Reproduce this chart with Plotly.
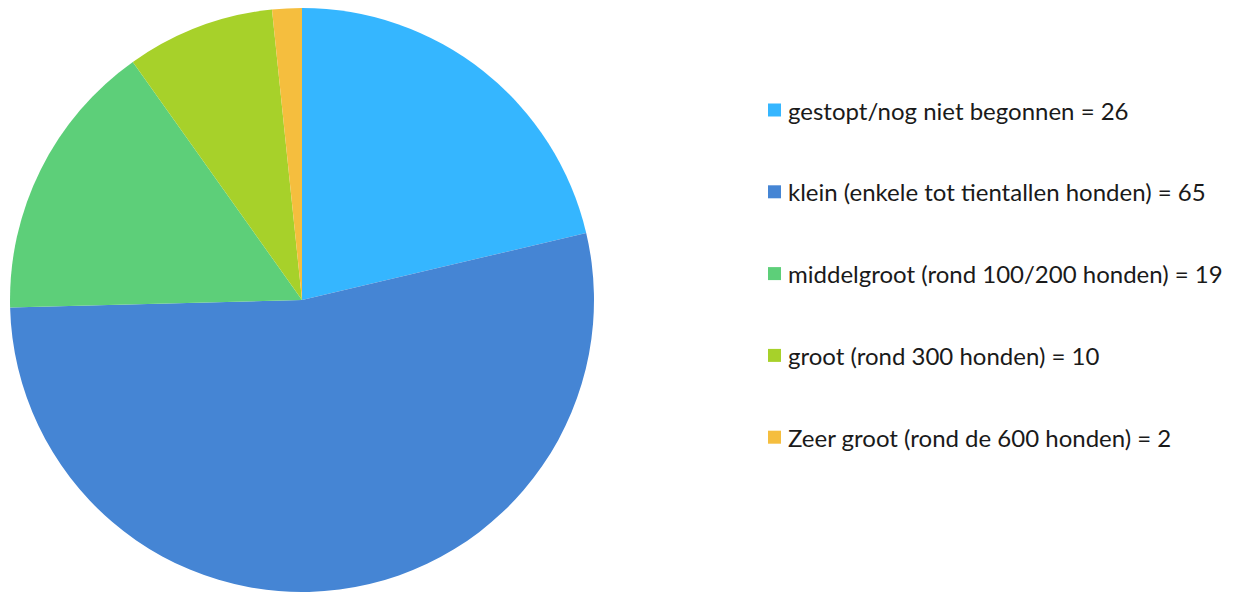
import plotly.graph_objects as go

# data
labels = [
    "gestopt/nog niet begonnen",
    "klein (enkele tot tientallen honden)",
    "middelgroot (rond 100/200 honden)",
    "groot (rond 300 honden)",
    "Zeer groot (rond de 600 honden)",
]
values = [26, 65, 19, 10, 2]
colors = ["#35b6ff", "#4585d4", "#5dcf79", "#a7d12a", "#f5be3e"]

W, H = 1245, 594
OFF = 8  # page body margin: screen px = paper px + OFF


def px_x(x):
    return (x - OFF) / W


def px_y(y):
    return 1 - (y - OFF) / H


fig = go.Figure()
fig.add_trace(go.Pie(
    labels=labels, values=values,
    marker=dict(colors=colors, line=dict(width=0)),
    sort=False, direction="clockwise", rotation=0,
    textinfo="none", hoverinfo="label+value",
    domain=dict(x=[px_x(10), px_x(594)], y=[px_y(592), px_y(8)]),
    showlegend=False,
))

# legend drawn by hand so the item spacing matches the reference
shapes = []
annotations = []
y0, step = 110, 81.8
for i, (lab, val) in enumerate(zip(labels, values)):
    yc = y0 + i * step
    shapes.append(dict(
        type="rect", xref="paper", yref="paper",
        x0=px_x(768), x1=px_x(781), y0=px_y(yc + 6.5), y1=px_y(yc - 6.5),
        fillcolor=colors[i], line=dict(width=0),
    ))
    annotations.append(dict(
        text=f"{lab} = {val}", xref="paper", yref="paper",
        x=px_x(786), y=px_y(yc), xanchor="left", yanchor="middle",
        showarrow=False, font=dict(size=24, color="#1a1a1a"),
    ))

fig.update_layout(
    width=W, height=H,
    margin=dict(l=0, r=0, t=0, b=0),
    paper_bgcolor="white", plot_bgcolor="white",
    font=dict(family="Lato, sans-serif"),
    shapes=shapes, annotations=annotations,
)
fig.write_html("out.html")
